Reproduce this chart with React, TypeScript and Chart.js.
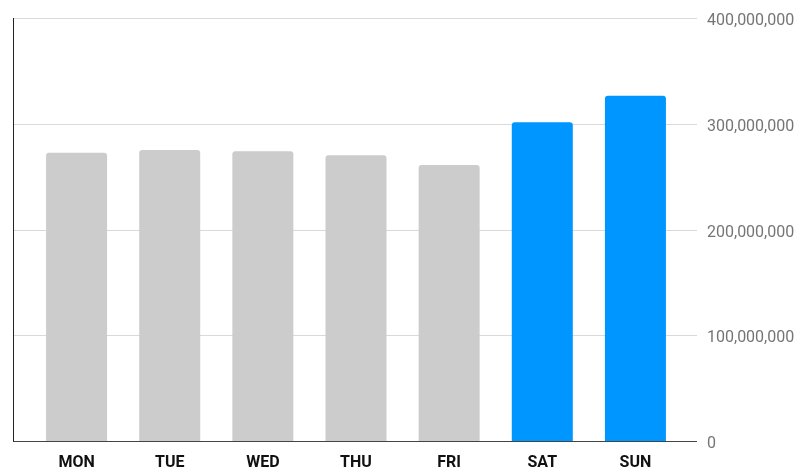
import React, { useEffect, useRef } from "react";
import { Chart, registerables } from "chart.js";

Chart.register(...registerables);

const categories = ["MON", "TUE", "WED", "THU", "FRI", "SAT", "SUN"];
const values = [272600000, 275200000, 274000000, 270200000, 261000000, 301400000, 326500000];
const barColors = ["#cccccc", "#cccccc", "#cccccc", "#cccccc", "#cccccc", "#0096ff", "#0096ff"];
const yTicks = [0, 100000000, 200000000, 300000000, 400000000];

const frameLeft = 13;
const frameRight = 697;

const framePlugin = {
  id: "frame",
  beforeDatasetsDraw(chart: any) {
    const { ctx, scales } = chart;
    const y = scales.y;
    ctx.save();
    ctx.strokeStyle = "#d9d9d9";
    ctx.lineWidth = 1;
    yTicks.forEach((t) => {
      if (t === 0) return;
      const py = Math.round(y.getPixelForValue(t)) + 0.5;
      ctx.beginPath();
      ctx.moveTo(frameLeft, py);
      ctx.lineTo(frameRight, py);
      ctx.stroke();
    });
    ctx.restore();
  },
  afterDatasetsDraw(chart: any) {
    const { ctx, scales } = chart;
    const y = scales.y;
    const py0 = Math.round(y.getPixelForValue(0)) + 0.5;
    const pyTop = Math.round(y.getPixelForValue(400000000));
    ctx.save();
    ctx.strokeStyle = "#444444";
    ctx.lineWidth = 1;
    ctx.beginPath();
    ctx.moveTo(frameLeft, py0);
    ctx.lineTo(frameRight, py0);
    ctx.stroke();
    ctx.strokeStyle = "#222222";
    ctx.beginPath();
    ctx.moveTo(frameLeft + 0.5, pyTop);
    ctx.lineTo(frameLeft + 0.5, py0);
    ctx.stroke();
    ctx.restore();
  },
};

export default function App() {
  const ref = useRef<HTMLCanvasElement | null>(null);
  useEffect(() => {
    if (!ref.current) return;
    const chart = new Chart(ref.current, {
      type: "bar",
      data: {
        labels: categories,
        datasets: [
          {
            data: values,
            backgroundColor: barColors,
            borderRadius: { topLeft: 3, topRight: 3, bottomLeft: 0, bottomRight: 0 },
            borderSkipped: false,
            barPercentage: 0.655,
            categoryPercentage: 1,
          },
        ],
      },
      options: {
        responsive: false,
        animation: false,
        devicePixelRatio: 1,
        layout: { padding: { left: 30, top: 18, right: 0, bottom: 0 } },
        plugins: { legend: { display: false }, tooltip: { enabled: false } },
        scales: {
          x: {
            offset: true,
            grid: { display: false, drawTicks: false },
            border: { display: false },
            ticks: {
              padding: 12,
              color: "#111111",
              font: { family: "Roboto", size: 16, weight: "bold" },
              maxRotation: 0,
            },
            afterFit(scale: any) {
              scale.height = 27;
              scale.paddingLeft = 0;
              scale.paddingRight = 0;
            },
          },
          y: {
            position: "right",
            min: 0,
            max: 400000000,
            afterBuildTicks(scale: any) {
              scale.ticks = yTicks.map((v) => ({ value: v }));
            },
            grid: { display: false, drawTicks: false },
            border: { display: false },
            ticks: {
              padding: 25,
              labelOffset: 3,
              color: "#757575",
              font: { family: "Roboto", size: 16 },
              callback: (v: any) => Number(v).toLocaleString("en-US"),
            },
            afterFit(scale: any) {
              scale.width = 118;
              scale.paddingTop = 0;
              scale.paddingBottom = 0;
            },
          },
        },
      },
      plugins: [framePlugin],
    });
    return () => chart.destroy();
  }, []);
  return (
    <div style={{ position: "absolute", left: 0, top: 0, width: 800, height: 468, background: "#fff" }}>
      <canvas ref={ref} width={800} height={468} style={{ width: 800, height: 468 }} />
    </div>
  );
}
